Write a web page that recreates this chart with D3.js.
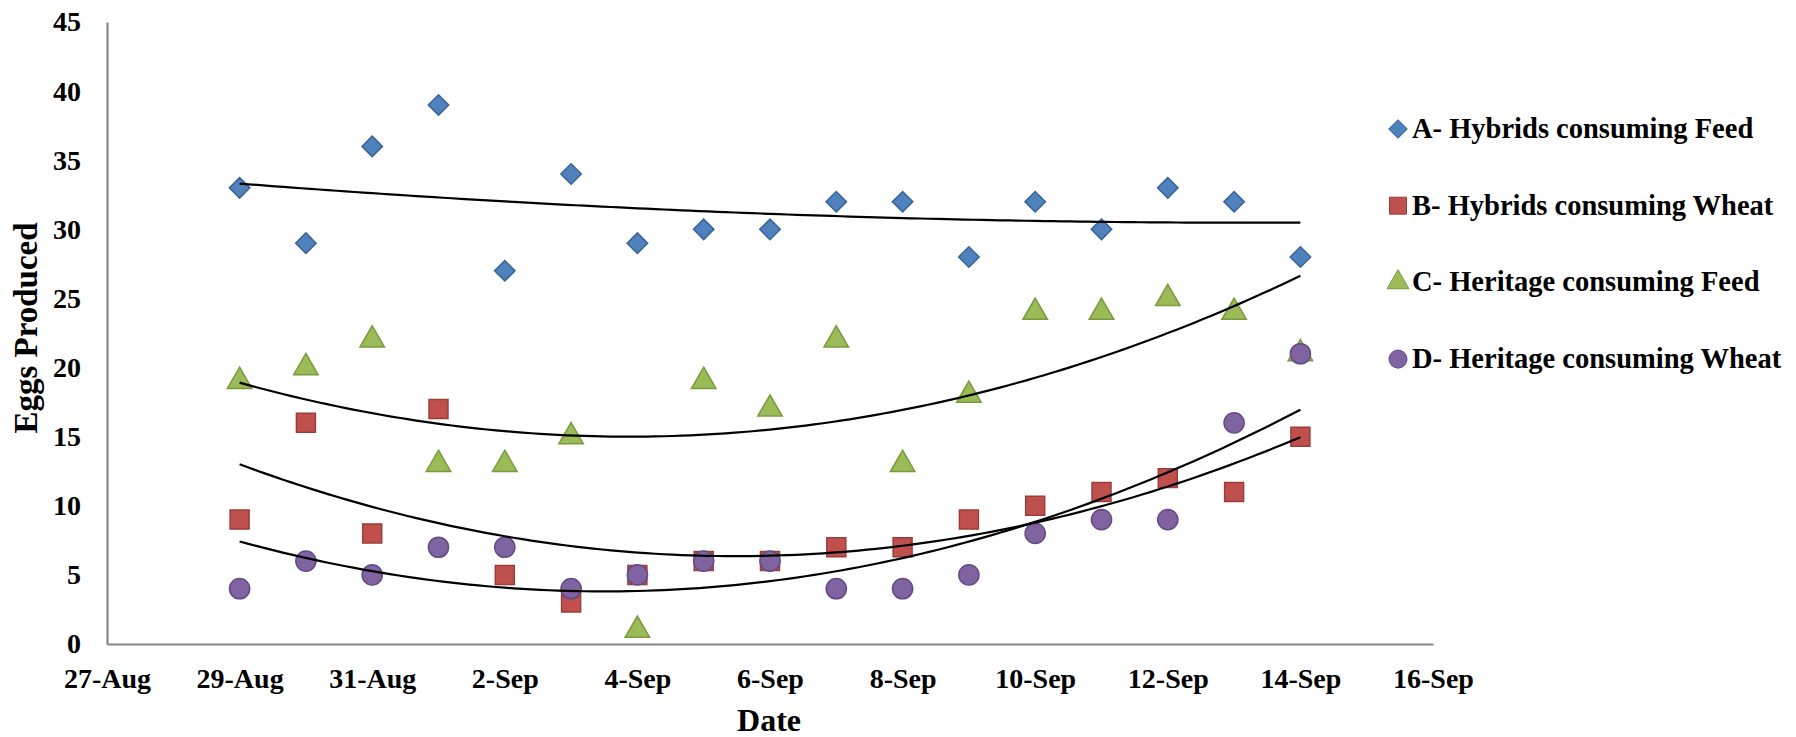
<!DOCTYPE html>
<html>
<head>
<meta charset="utf-8">
<script src="https://cdn.jsdelivr.net/npm/d3@7"></script>
<style>
  body { margin: 0; background: #fff; }
  text { font-family: "Liberation Serif", "Times New Roman", serif; font-weight: bold; fill: #000; }
</style>
</head>
<body>
<div id="chart"></div>
<script>
// observation dates (one per day)
const dates = ["2013-08-29", "2013-08-30", "2013-08-31", "2013-09-01", "2013-09-02", "2013-09-03",
               "2013-09-04", "2013-09-05", "2013-09-06", "2013-09-07", "2013-09-08", "2013-09-09",
               "2013-09-10", "2013-09-11", "2013-09-12", "2013-09-13", "2013-09-14"];

const seriesNames = ["A- Hybrids consuming Feed", "B- Hybrids consuming Wheat",
                     "C- Heritage consuming Feed", "D- Heritage consuming Wheat"];

const hybridsFeed   = [33, 29, 36, 39, 27, 34, 29, 30, 30, 32, 32, 28, 32, 30, 33, 32, 28];
const hybridsWheat  = [9, 16, 8, 17, 5, 3, 5, 6, 6, 7, 7, 9, 10, 11, 12, 11, 15];
const heritageFeed  = [19, 20, 22, 13, 13, 15, 1, 19, 17, 22, 13, 18, 24, 24, 25, 24, 21];
const heritageWheat = [4, 6, 5, 7, 7, 4, 5, 6, 6, 4, 4, 5, 8, 9, 9, 16, 21];

const yTicks = [0, 5, 10, 15, 20, 25, 30, 35, 40, 45];
const xTickDates = ["2013-08-27", "2013-08-29", "2013-08-31", "2013-09-02", "2013-09-04", "2013-09-06",
                    "2013-09-08", "2013-09-10", "2013-09-12", "2013-09-14", "2013-09-16"];

const fills   = ["#4F81BD", "#C0504D", "#9BBB59", "#8064A2"];
const strokes = ["#3A6496", "#9B3D3A", "#7A9A3F", "#634C84"];
const shapes  = [d3.symbolSquare, d3.symbolSquare, d3.symbolTriangle, d3.symbolCircle];
const shapeSizes = [210, 360, 260, 320];
const rotations = [45, 0, 0, 0];

const width = 1796, height = 737;
const margin = {top: 22, right: 363, bottom: 93, left: 107};

const parse = d3.utcParse("%Y-%m-%d");
const allSeries = [hybridsFeed, hybridsWheat, heritageFeed, heritageWheat];

const svg = d3.select("#chart")
  .append("svg")
    .attr("width", width)
    .attr("height", height);

const x = d3.scaleUtc()
  .domain([parse(xTickDates[0]), parse(xTickDates[xTickDates.length - 1])])
  .range([margin.left, width - margin.right]);

const y = d3.scaleLinear()
  .domain([0, 45])
  .range([height - margin.bottom, margin.top]);

// axes
const yAxis = svg.append("g")
  .attr("transform", `translate(${margin.left},0)`)
  .call(d3.axisLeft(y).tickValues(yTicks).tickSize(0).tickPadding(26));

const xAxis = svg.append("g")
  .attr("transform", `translate(0,${height - margin.bottom})`)
  .call(d3.axisBottom(x)
    .tickValues(xTickDates.map(parse))
    .tickFormat(d3.utcFormat("%-d-%b"))
    .tickSize(0).tickPadding(24));

[xAxis, yAxis].forEach(a => {
  a.select(".domain").attr("stroke", "#868686").attr("stroke-width", 2.2);
  a.selectAll("text")
    .style("font-family", '"Liberation Serif", serif')
    .style("font-weight", "bold")
    .style("font-size", "28px")
    .attr("fill", "#000");
});

// axis titles
svg.append("text")
  .attr("x", (margin.left + width - margin.right) / 2 - 1)
  .attr("y", 731)
  .attr("text-anchor", "middle")
  .style("font-size", "32px")
  .text("Date");

svg.append("text")
  .attr("transform", "translate(37,328) rotate(-90)")
  .attr("text-anchor", "middle")
  .style("font-size", "33px")
  .text("Eggs Produced");

// markers
allSeries.forEach((vals, i) => {
  svg.append("g")
    .selectAll("path")
    .data(vals.map((v, j) => ({date: parse(dates[j]), value: v})))
    .enter()
    .append("path")
      .attr("transform", d => `translate(${x(d.date)},${y(d.value)}) rotate(${rotations[i]})`)
      .attr("d", d3.symbol().type(shapes[i]).size(shapeSizes[i]))
      .attr("fill", fills[i])
      .attr("stroke", strokes[i])
      .attr("stroke-width", 1.5);
});

// 2nd order polynomial trendlines (least squares on the data above)
function quadFit(xs, ys) {
  let s = [0, 0, 0, 0, 0], t = [0, 0, 0];
  xs.forEach((xv, k) => {
    for (let p = 0; p < 5; p++) s[p] += Math.pow(xv, p);
    for (let p = 0; p < 3; p++) t[p] += ys[k] * Math.pow(xv, p);
  });
  const m = [[s[0], s[1], s[2], t[0]], [s[1], s[2], s[3], t[1]], [s[2], s[3], s[4], t[2]]];
  for (let c = 0; c < 3; c++) {
    for (let r = c + 1; r < 3; r++) {
      const f = m[r][c] / m[c][c];
      for (let k = c; k < 4; k++) m[r][k] -= f * m[c][k];
    }
  }
  const coef = [0, 0, 0];
  for (let r = 2; r >= 0; r--) {
    let sum = m[r][3];
    for (let k = r + 1; k < 3; k++) sum -= m[r][k] * coef[k];
    coef[r] = sum / m[r][r];
  }
  return coef;
}

const dayMs = 86400000;
const t0 = parse(dates[0]);
const dayIdx = dates.map(d => (parse(d) - t0) / dayMs);
const lastDay = dayIdx[dayIdx.length - 1];

const trend = d3.line()
  .x(d => x(new Date(t0.getTime() + d[0] * dayMs)))
  .y(d => y(d[1]));

allSeries.forEach(vals => {
  const c = quadFit(dayIdx, vals);
  const pts = d3.range(0, lastDay + 0.001, lastDay / 120).map(t => [t, c[0] + c[1] * t + c[2] * t * t]);
  svg.append("path")
    .datum(pts)
    .attr("d", trend)
    .attr("fill", "none")
    .attr("stroke", "#000")
    .attr("stroke-width", 2.2);
});

// legend
const legend = svg.append("g");
seriesNames.forEach((name, i) => {
  const ly = 129 + i * 76.7;
  legend.append("path")
    .attr("transform", `translate(1398,${ly}) rotate(${rotations[i]})`)
    .attr("d", d3.symbol().type(shapes[i]).size(shapeSizes[i] * 0.8))
    .attr("fill", fills[i])
    .attr("stroke", strokes[i])
    .attr("stroke-width", 1);
  legend.append("text")
    .attr("x", 1412)
    .attr("y", ly + 9)
    .style("font-size", "28.5px")
    .text(name);
});
</script>
</body>
</html>
